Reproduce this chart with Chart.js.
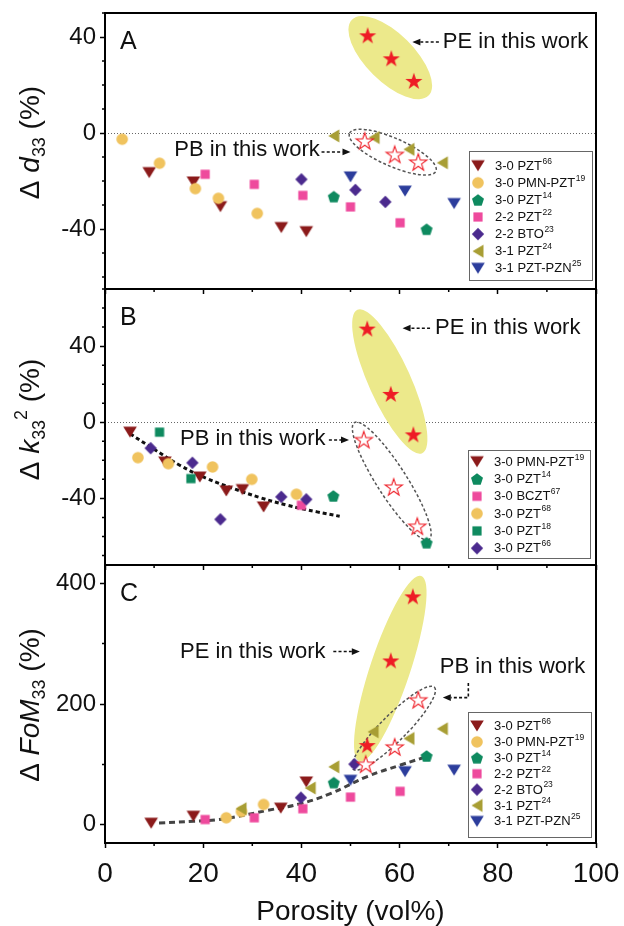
<!DOCTYPE html>
<html>
<head>
<meta charset="utf-8">
<title>Porosity dependence of d33, k33² and FoM33</title>
<script src="https://cdn.jsdelivr.net/npm/chart.js@4.4.1/dist/chart.umd.min.js"></script>
<style>
  html, body { margin: 0; background: #fff; }
  #figure { position: relative; width: 624px; height: 926px; overflow: hidden; }
  #figure canvas { position: absolute; left: 0; }
</style>
</head>
<body>
<div id="figure">
  <canvas id="panelA"></canvas>
  <canvas id="panelB"></canvas>
  <canvas id="panelC"></canvas>
</div>
<script>
// ---- porosity axis (vol%) ----
const porosityTicks = [0, 20, 40, 60, 80, 100];

// ---- A: change of d33 (%) ----
const d33Ticks = [-40, 0, 40];
const d33_pzt66 = [[9.0, -16.5], [18.0, -20.4], [23.5, -30.7], [35.9, -39.4], [41.0, -41.1]];
const d33_pmnPzt19 = [[3.5, -2.6], [11.1, -12.6], [18.4, -23.2], [23.1, -27.2], [31.0, -33.5]];
const d33_pzt14 = [[46.6, -26.5], [65.5, -40.1]];
const d33_pzt22 = [[20.4, -17.2], [30.4, -21.4], [40.3, -26.0], [50.0, -30.8], [60.1, -37.4]];
const d33_bto23 = [[40.0, -19.3], [51.0, -23.7], [57.1, -28.7]];
const d33_pzt24 = [[46.6, -1.2], [54.8, -1.9], [61.9, -6.8], [68.7, -12.4]];
const d33_pztPzn25 = [[50.0, -18.3], [61.1, -24.2], [71.1, -29.4]];
const d33_pe = [[53.5, 40.7], [58.3, 31.1], [62.9, 21.7]];
const d33_pb = [[52.9, -3.3], [59.0, -8.9], [63.8, -12.1]];

// ---- B: change of k33^2 (%) ----
const k33Ticks = [-40, 0, 40];
const k33_pmnPzt19 = [[5.1, -5.2], [12.2, -20.9], [19.3, -28.8], [24.7, -36.1], [28.0, -35.4], [32.3, -44.5]];
const k33_pzt14 = [[46.5, -38.7], [65.5, -63.3]];
const k33_bczt67 = [[40.0, -43.6]];
const k33_pzt68 = [[6.7, -18.6], [12.9, -21.8], [21.9, -23.5], [29.9, -30.0], [39.0, -37.8]];
const k33_pzt18 = [[11.1, -5.2], [17.5, -29.6]];
const k33_pzt66 = [[9.3, -13.6], [17.8, -21.3], [23.5, -51.0], [35.9, -39.2], [41.0, -40.5]];
const k33_pe = [[53.4, 49.2], [58.2, 14.9], [62.8, -6.4]];
const k33_pb = [[52.7, -9.1], [58.8, -34.0], [63.6, -54.6]];
const k33_trend = [[5.1, -6.1], [9.9, -14.0], [15.3, -22.7], [20.8, -29.6], [26.2, -34.9], [31.6, -39.6], [37.1, -43.6], [43.2, -47.1], [47.8, -49.4]];

// ---- C: change of FoM33 (%) ----
const fomTicks = [0, 200, 400];
const fom_pzt66 = [[9.4, 2.7], [18.0, 14.3], [35.8, 27.7], [41.0, 71.0]];
const fom_pmnPzt19 = [[24.7, 11.7], [27.8, 22.0], [32.3, 33.8]];
const fom_pzt14 = [[46.6, 70.0], [65.5, 114.0]];
const fom_pzt22 = [[20.4, 8.8], [30.4, 11.7], [40.3, 26.7], [50.0, 46.0], [60.1, 55.5]];
const fom_bto23 = [[39.9, 45.0], [50.8, 100.5]];
const fom_pzt24 = [[27.7, 26.7], [41.8, 61.0], [46.6, 96.0], [54.6, 154.0], [61.9, 143.0], [68.7, 159.0]];
const fom_pztPzn25 = [[50.0, 73.8], [61.1, 88.0], [71.1, 90.5]];
const fom_pe = [[53.4, 132.0], [58.2, 272.0], [62.7, 378.0]];
const fom_pb = [[53.1, 100.5], [59.0, 129.0], [63.8, 207.0]];
const fom_trend = [[11.0, 3], [18.0, 6], [22.4, 8], [26.2, 12.7], [33.0, 23.8], [39.8, 35], [45.9, 51.7], [53.4, 80], [60.2, 99], [66.3, 115]];

// ---- look ----
const FONT = '"Liberation Sans", Arial, Helvetica, sans-serif';
const INK = '#111';
const COL = {
  wine: '#8B1A1A', sand: '#F0C35E', green: '#0E8A5F', pink: '#EE4A9D',
  purple: '#4B2A8E', olive: '#A89E34', blue: '#2C3D9C', star: '#EE1C25', halo: '#ECE98B'
};
Chart.defaults.font.family = FONT;
Chart.defaults.color = INK;

const pts = arr => arr.map(([x, y]) => ({ x, y }));

function starPath(g, cx, cy, R, r) {
  for (let i = 0; i < 10; i++) {
    const rad = i % 2 ? r : R;
    const ang = -Math.PI / 2 + i * Math.PI / 5;
    const px = cx + rad * Math.cos(ang), py = cy + rad * Math.sin(ang);
    if (i) g.lineTo(px, py); else g.moveTo(px, py);
  }
}

// point symbols are small canvases, shared by the plot and the legend box
function marker(shape, color) {
  const c = document.createElement('canvas');
  c.width = 22; c.height = 22;
  const g = c.getContext('2d');
  const m = 11;
  g.fillStyle = color; g.strokeStyle = color;
  g.beginPath();
  switch (shape) {
    case 'triDown': g.moveTo(m - 6.8, m - 5.5); g.lineTo(m + 6.8, m - 5.5); g.lineTo(m, m + 5.5); break;
    case 'triLeft': g.moveTo(m + 5.5, m - 6.6); g.lineTo(m + 5.5, m + 6.6); g.lineTo(m - 5.5, m); break;
    case 'circle': g.arc(m, m, 5.8, 0, Math.PI * 2); break;
    case 'square': g.rect(m - 4.6, m - 4.6, 9.2, 9.2); break;
    case 'diamond': g.moveTo(m, m - 6.2); g.lineTo(m + 6.2, m); g.lineTo(m, m + 6.2); g.lineTo(m - 6.2, m); break;
    case 'pentagon':
      for (let i = 0; i < 5; i++) {
        const a = -Math.PI / 2 + i * 2 * Math.PI / 5;
        const px = m + 6.3 * Math.cos(a), py = m + 0.6 + 6.3 * Math.sin(a);
        if (i) g.lineTo(px, py); else g.moveTo(px, py);
      }
      break;
    case 'star': case 'starOpen': starPath(g, m, m + 0.8, 9, 3.5); break;
  }
  g.closePath();
  if (shape === 'starOpen') {
    g.fillStyle = '#fff'; g.fill();
    g.lineWidth = 1.1; g.stroke();
  } else {
    g.fill();
  }
  return c;
}

function buildDatasets(series, pe, pb, trend, trendStyle) {
  const sets = [
    { data: pts(pe), pointStyle: marker('star', COL.star), order: 0 },
    { data: pts(pb), pointStyle: marker('starOpen', COL.star), order: 1 }
  ];
  if (trend) {
    sets.push(Object.assign({ data: pts(trend), showLine: true, fill: false, pointRadius: 0, tension: 0.4, order: 40 }, trendStyle));
  }
  series.forEach((s, i) => sets.push({
    label: s.label, ref: s.ref, data: pts(s.data), pointStyle: marker(s.shape, s.color), order: 30 - i
  }));
  return sets;
}

const seriesA = [
  { label: '3-0 PZT', ref: '66', data: d33_pzt66, shape: 'triDown', color: COL.wine },
  { label: '3-0 PMN-PZT', ref: '19', data: d33_pmnPzt19, shape: 'circle', color: COL.sand },
  { label: '3-0 PZT', ref: '14', data: d33_pzt14, shape: 'pentagon', color: COL.green },
  { label: '2-2 PZT', ref: '22', data: d33_pzt22, shape: 'square', color: COL.pink },
  { label: '2-2 BTO', ref: '23', data: d33_bto23, shape: 'diamond', color: COL.purple },
  { label: '3-1 PZT', ref: '24', data: d33_pzt24, shape: 'triLeft', color: COL.olive },
  { label: '3-1 PZT-PZN', ref: '25', data: d33_pztPzn25, shape: 'triDown', color: COL.blue }
];
const seriesB = [
  { label: '3-0 PMN-PZT', ref: '19', data: k33_pmnPzt19, shape: 'triDown', color: COL.wine },
  { label: '3-0 PZT', ref: '14', data: k33_pzt14, shape: 'pentagon', color: COL.green },
  { label: '3-0 BCZT', ref: '67', data: k33_bczt67, shape: 'square', color: COL.pink },
  { label: '3-0 PZT', ref: '68', data: k33_pzt68, shape: 'circle', color: COL.sand },
  { label: '3-0 PZT', ref: '18', data: k33_pzt18, shape: 'square', color: COL.green },
  { label: '3-0 PZT', ref: '66', data: k33_pzt66, shape: 'diamond', color: COL.purple }
];
const seriesC = [
  { label: '3-0 PZT', ref: '66', data: fom_pzt66, shape: 'triDown', color: COL.wine },
  { label: '3-0 PMN-PZT', ref: '19', data: fom_pmnPzt19, shape: 'circle', color: COL.sand },
  { label: '3-0 PZT', ref: '14', data: fom_pzt14, shape: 'pentagon', color: COL.green },
  { label: '2-2 PZT', ref: '22', data: fom_pzt22, shape: 'square', color: COL.pink },
  { label: '2-2 BTO', ref: '23', data: fom_bto23, shape: 'diamond', color: COL.purple },
  { label: '3-1 PZT', ref: '24', data: fom_pzt24, shape: 'triLeft', color: COL.olive },
  { label: '3-1 PZT-PZN', ref: '25', data: fom_pztPzn25, shape: 'triDown', color: COL.blue }
];

// rich text: runs of normal / italic / subscript / superscript
function runs(ctx, parts, size, draw) {
  let x = 0;
  for (const p of parts) {
    const s = (p.sub || p.sup) ? size * 0.64 : size;
    ctx.font = `${p.it ? 'italic ' : ''}${s}px ${FONT}`;
    const dy = p.sub ? size * 0.22 : p.sup ? -size * 0.42 : 0;
    if (draw) ctx.fillText(p.t, x, dy);
    x += ctx.measureText(p.t).width;
  }
  return x;
}

function drawEllipse(ctx, xs, ys, e) {
  const cx = xs.getPixelForValue(e.c[0]), cy = ys.getPixelForValue(e.c[1]);
  const tx = xs.getPixelForValue(e.tip[0]), ty = ys.getPixelForValue(e.tip[1]);
  const a = Math.hypot(tx - cx, ty - cy), ang = Math.atan2(ty - cy, tx - cx);
  ctx.beginPath();
  ctx.ellipse(cx, cy, a, e.b, ang, 0, Math.PI * 2);
  if (e.dashed) {
    ctx.setLineDash([3, 2.2]); ctx.lineWidth = 1.5; ctx.strokeStyle = '#555'; ctx.stroke();
    ctx.setLineDash([]);
  } else {
    ctx.fillStyle = COL.halo; ctx.fill();
  }
}

function drawArrow(ctx, xs, ys, path) {
  const p = path.map(([x, y]) => [xs.getPixelForValue(x), ys.getPixelForValue(y)]);
  const n = p.length;
  const [x1, y1] = p[n - 2], [x2, y2] = p[n - 1];
  const ang = Math.atan2(y2 - y1, x2 - x1), head = 8, half = 3.4;
  ctx.strokeStyle = INK; ctx.fillStyle = INK; ctx.lineWidth = 1.6;
  ctx.setLineDash([3, 2.2]);
  ctx.beginPath();
  ctx.moveTo(p[0][0], p[0][1]);
  for (let i = 1; i < n - 1; i++) ctx.lineTo(p[i][0], p[i][1]);
  ctx.lineTo(x2 - head * Math.cos(ang), y2 - head * Math.sin(ang));
  ctx.stroke();
  ctx.setLineDash([]);
  ctx.beginPath();
  ctx.moveTo(x2, y2);
  ctx.lineTo(x2 - head * Math.cos(ang) + half * Math.sin(ang), y2 - head * Math.sin(ang) - half * Math.cos(ang));
  ctx.lineTo(x2 - head * Math.cos(ang) - half * Math.sin(ang), y2 - head * Math.sin(ang) + half * Math.cos(ang));
  ctx.closePath();
  ctx.fill();
}

function drawLegend(ctx, chart, L) {
  const a = chart.chartArea;
  const bx = Math.round(a.right - L.dr - L.w), by = Math.round(a.bottom - L.db - L.h);
  ctx.fillStyle = '#fff';
  ctx.fillRect(bx, by, L.w, L.h);
  ctx.strokeStyle = '#666'; ctx.lineWidth = 1;
  ctx.strokeRect(bx + 0.5, by + 0.5, L.w, L.h);
  const items = chart.data.datasets.filter(d => d.ref);
  ctx.textAlign = 'left'; ctx.textBaseline = 'middle';
  items.forEach((d, i) => {
    const cy = by + L.row0 + i * L.gap;
    const img = d.pointStyle;
    ctx.drawImage(img, bx + 9 - img.width / 2, cy - img.height / 2);
    ctx.fillStyle = INK;
    ctx.font = `13px ${FONT}`;
    ctx.fillText(d.label, bx + 26, cy + 0.5);
    const w = ctx.measureText(d.label).width;
    ctx.font = `8.5px ${FONT}`;
    ctx.fillText(d.ref, bx + 26.5 + w, cy - 4.5);
  });
}

// frame, minor ticks, annotations, panel letter, legend box and y title
function overlay(p) {
  return {
    id: 'overlay',
    beforeDatasetsDraw(chart) {
      const { ctx, chartArea: a, scales: { x, y } } = chart;
      ctx.save();
      ctx.beginPath();
      ctx.rect(a.left, a.top, a.right - a.left, a.bottom - a.top);
      ctx.clip();
      if (p.zeroLine) {
        const py = Math.round(y.getPixelForValue(0)) + 0.5;
        ctx.strokeStyle = '#666'; ctx.lineWidth = 1; ctx.setLineDash([1, 2]);
        ctx.beginPath(); ctx.moveTo(a.left, py); ctx.lineTo(a.right, py); ctx.stroke();
        ctx.setLineDash([]);
      }
      p.ellipses.filter(e => !e.dashed).forEach(e => drawEllipse(ctx, x, y, e));
      p.ellipses.filter(e => e.dashed).forEach(e => drawEllipse(ctx, x, y, e));
      ctx.restore();
    },
    afterDraw(chart) {
      const { ctx, chartArea: a, scales: { x, y } } = chart;
      ctx.save();
      // minor ticks
      ctx.strokeStyle = '#000'; ctx.lineWidth = 1.5;
      ctx.beginPath();
      for (let v = 10; v < 100; v += 20) {
        const px = x.getPixelForValue(v);
        ctx.moveTo(px, a.bottom); ctx.lineTo(px, a.bottom + 3);
      }
      for (let v = Math.ceil(y.min / p.minorStep) * p.minorStep; v <= y.max; v += p.minorStep) {
        if (p.majorTicks.includes(v)) continue;
        const py = y.getPixelForValue(v);
        ctx.moveTo(a.left - 3, py); ctx.lineTo(a.left, py);
      }
      ctx.stroke();
      // frame
      ctx.lineWidth = 2;
      ctx.strokeRect(a.left, a.top, a.right - a.left, a.bottom - a.top);
      // notes and arrows
      ctx.fillStyle = INK; ctx.textAlign = 'left'; ctx.textBaseline = 'middle';
      ctx.font = `22px ${FONT}`;
      p.notes.forEach(n => ctx.fillText(n.text, x.getPixelForValue(n.at[0]), y.getPixelForValue(n.at[1])));
      p.arrows.forEach(path => drawArrow(ctx, x, y, path));
      // panel letter
      ctx.fillStyle = INK; ctx.font = `25px ${FONT}`; ctx.textBaseline = 'alphabetic';
      ctx.fillText(p.letter, a.left + 15, a.top + 36);
      drawLegend(ctx, chart, p.legend);
      // y title
      ctx.fillStyle = INK; ctx.textBaseline = 'alphabetic'; ctx.textAlign = 'left';
      ctx.translate(38.5, p.titleY - p.top);
      ctx.rotate(-Math.PI / 2);
      const w = runs(ctx, p.title, 28, false);
      ctx.translate(-w / 2, 0);
      runs(ctx, p.title, 28, true);
      ctx.restore();
    }
  };
}

function makePanel(p) {
  const canvas = document.getElementById(p.id);
  canvas.width = 624; canvas.height = p.height;
  canvas.style.top = p.top + 'px';
  const xHeight = p.height - (p.plotBottom - p.top);
  return new Chart(canvas, {
    type: 'scatter',
    data: { datasets: p.datasets },
    options: {
      responsive: false,
      animation: false,
      devicePixelRatio: 1,
      elements: { point: { radius: 5, hoverRadius: 5 } },
      layout: { padding: { left: 0, right: 28, top: p.plotTop - p.top, bottom: 0 } },
      plugins: { legend: { display: false }, tooltip: { enabled: false } },
      scales: {
        x: {
          min: 0, max: 100,
          afterBuildTicks: s => { s.ticks = porosityTicks.map(v => ({ value: v })); },
          afterFit: s => { s.height = xHeight; s.paddingLeft = 0; s.paddingRight = 0; },
          ticks: { display: p.xLabels, font: { size: 28 }, color: INK, padding: 9, maxRotation: 0 },
          grid: { drawOnChartArea: false, drawTicks: true, tickLength: 5, tickWidth: 1.5, tickColor: '#000' },
          border: { display: false },
          title: {
            display: p.xLabels, text: 'Porosity (vol%)', color: INK,
            font: { size: 28, lineHeight: 1 }, padding: { top: 0, bottom: 0 }
          }
        },
        y: {
          min: p.yMin, max: p.yMax,
          afterBuildTicks: s => { s.ticks = p.majorTicks.map(v => ({ value: v })); },
          afterFit: s => { s.width = 105; s.paddingTop = 0; s.paddingBottom = 0; },
          ticks: { font: { size: 24 }, color: INK, padding: 4 },
          grid: { drawOnChartArea: false, drawTicks: true, tickLength: 5, tickWidth: 1.5, tickColor: '#000' },
          border: { display: false }
        }
      }
    },
    plugins: [overlay(p)]
  });
}

makePanel({
  id: 'panelA', top: 0, height: 300, plotTop: 13, plotBottom: 289,
  yMin: -65, yMax: 50, majorTicks: d33Ticks, minorStep: 10, xLabels: false,
  datasets: buildDatasets(seriesA, d33_pe, d33_pb, null),
  zeroLine: true, letter: 'A', titleY: 142.5,
  title: [{ t: 'Δ ' }, { t: 'd', it: 1 }, { t: '33', sub: 1 }, { t: ' (%)' }],
  ellipses: [
    { c: [58.1, 31.4], tip: [50.3, 47.2], b: 24 },
    { c: [58.6, -8.0], tip: [49.8, -0.1], b: 14, dashed: true }
  ],
  notes: [{ text: 'PE in this work', at: [68.8, 37.9] }, { text: 'PB in this work', at: [14.1, -7.2] }],
  arrows: [[[68.0, 37.9], [62.6, 37.9]], [[44.1, -7.9], [50.0, -7.9]]],
  legend: { dr: 4.5, db: 9, w: 123, h: 129, row0: 14.7, gap: 17.1 }
});

makePanel({
  id: 'panelB', top: 279, height: 297, plotTop: 289, plotBottom: 565,
  yMin: -75, yMax: 70, majorTicks: k33Ticks, minorStep: 10, xLabels: false,
  datasets: buildDatasets(seriesB, k33_pe, k33_pb, k33_trend,
    { borderColor: '#111', borderWidth: 3, borderDash: [4, 3] }),
  zeroLine: true, letter: 'B', titleY: 419.5,
  title: [{ t: 'Δ ' }, { t: 'k', it: 1 }, { t: '33', sub: 1 }, { t: '2', sup: 1 }, { t: ' (%)' }],
  ellipses: [
    { c: [58.0, 21.4], tip: [64.6, -16.3], b: 21 },
    { c: [58.4, -30.9], tip: [66.0, -61.6], b: 15, dashed: true }
  ],
  notes: [{ text: 'PE in this work', at: [67.2, 49.4] }, { text: 'PB in this work', at: [15.3, -8.8] }],
  arrows: [[[66.2, 49.4], [60.6, 49.4]], [[45.6, -9.3], [49.7, -9.3]]],
  legend: { dr: 6, db: 6.7, w: 122, h: 108, row0: 11.7, gap: 17.3 }
});

makePanel({
  id: 'panelC', top: 550, height: 376, plotTop: 565, plotBottom: 843,
  yMin: -30, yMax: 430, majorTicks: fomTicks, minorStep: 100, xLabels: true,
  datasets: buildDatasets(seriesC, fom_pe, fom_pb, fom_trend,
    { borderColor: '#444', borderWidth: 3, borderDash: [6, 4] }),
  zeroLine: false, letter: 'C', titleY: 705,
  title: [{ t: 'Δ ' }, { t: 'FoM', it: 1 }, { t: '33', sub: 1 }, { t: ' (%)' }],
  ellipses: [
    { c: [58.1, 258.5], tip: [64.4, 412], b: 20 },
    { c: [58.8, 160], tip: [67.1, 227.8], b: 13, dashed: true }
  ],
  notes: [{ text: 'PE in this work', at: [15.3, 286.8] }, { text: 'PB in this work', at: [68.2, 261] }],
  arrows: [[[46.5, 286.8], [51.9, 286.8]], [[74.0, 234.6], [74.0, 210.6], [68.8, 210.6]]],
  legend: { dr: 5.3, db: 6.3, w: 123, h: 125, row0: 14, gap: 15.9 }
});
</script>
</body>
</html>
